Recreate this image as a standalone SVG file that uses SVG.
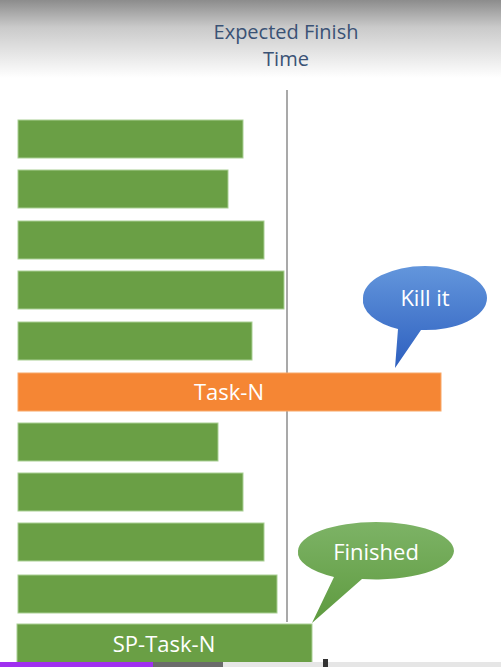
<svg xmlns="http://www.w3.org/2000/svg" width="501" height="667" viewBox="0 0 501 667">
<defs>
<linearGradient id="topg" x1="0" y1="0" x2="0" y2="1">
<stop offset="0" stop-color="#8c8c8c"/>
<stop offset="0.35" stop-color="#cacaca"/>
<stop offset="1" stop-color="#ffffff"/>
</linearGradient>
<linearGradient id="blueg" x1="0" y1="0" x2="0" y2="1">
<stop offset="0" stop-color="#6396dc"/>
<stop offset="1" stop-color="#2d5fbf"/>
</linearGradient>
<linearGradient id="greeng" x1="0" y1="0" x2="0" y2="1">
<stop offset="0" stop-color="#7db366"/>
<stop offset="1" stop-color="#5e9a3f"/>
</linearGradient>
</defs>
<style>
.bar{fill:#6a9f45;stroke:#a9cf94;stroke-width:1}
.lbl{font-family:"Open Sans","Liberation Sans",sans-serif;fill:#ffffff;text-anchor:middle;font-size:22px}
.ttl{font-family:"Open Sans","Liberation Sans",sans-serif;fill:#3a5275;text-anchor:middle;font-size:20px}
</style>
<rect width="501" height="667" fill="#ffffff"/>
<rect width="501" height="78" fill="url(#topg)"/>
<g id="title">
<text class="ttl" x="286" y="39">Expected Finish</text>
<text class="ttl" x="286" y="66">Time</text>
</g>
<g id="connectors">
<line x1="287" y1="90" x2="287" y2="622" stroke="#8c8c8c" stroke-width="1.5"/>
</g>
<g id="bar1"><rect class="bar" x="18" y="120" width="225" height="38"/></g>
<g id="bar2"><rect class="bar" x="18" y="170" width="210" height="38"/></g>
<g id="bar3"><rect class="bar" x="18" y="221" width="246" height="38"/></g>
<g id="bar4"><rect class="bar" x="18" y="271" width="266" height="38"/></g>
<g id="bar5"><rect class="bar" x="18" y="322" width="234" height="38"/></g>
<g id="task-n">
<rect x="18" y="373" width="423" height="38" fill="#f58634" stroke="#f8a868" stroke-width="1"/>
<text class="lbl" x="229" y="400">Task-N</text>
</g>
<g id="bar6"><rect class="bar" x="18" y="423" width="200" height="38"/></g>
<g id="bar7"><rect class="bar" x="18" y="473" width="225" height="38"/></g>
<g id="bar8"><rect class="bar" x="18" y="523" width="246" height="38"/></g>
<g id="bar9"><rect class="bar" x="18" y="575" width="259" height="38"/></g>
<g id="sp-task-n">
<rect class="bar" x="17" y="624" width="295" height="40"/>
<text class="lbl" x="164" y="652">SP-Task-N</text>
</g>
<g id="kill-it">
<path d="M363,298 A62,32 0 0 1 487,298 A62,32 0 0 1 421,330 L395,368 L398,329 A62,32 0 0 1 363,298 Z" fill="url(#blueg)"/>
<text class="lbl" x="425" y="306">Kill it</text>
</g>
<g id="finished">
<path d="M298,551 A78,29 0 0 1 454,551 A78,29 0 0 1 362,579 L312,623 L334,577 A78,29 0 0 1 298,551 Z" fill="url(#greeng)"/>
<text class="lbl" x="376" y="560">Finished</text>
</g>
<g id="progress">
<rect x="0" y="662" width="501" height="5" fill="#e6e6e6"/>
<rect x="153" y="662" width="70" height="5" fill="#6b6b6b"/>
<rect x="0" y="662" width="153" height="5" fill="#a030f0"/>
<rect x="323" y="659" width="5" height="8" fill="#333333"/>
</g>
</svg>
